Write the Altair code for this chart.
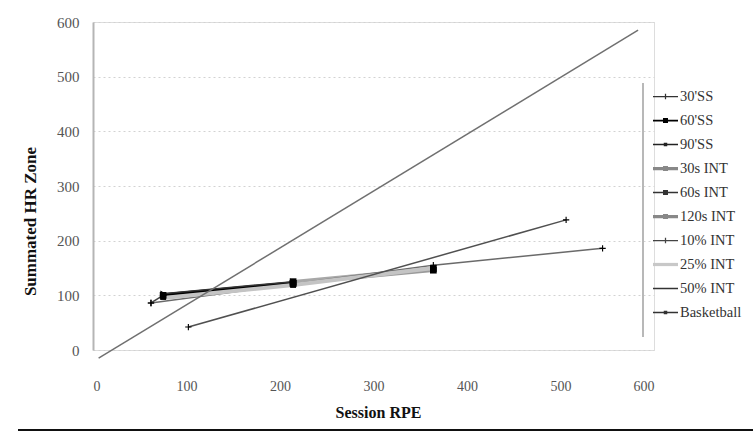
import altair as alt
import pandas as pd

# ---------------- data ----------------
series = ["30'SS", "60'SS", "90'SS", "30s INT", "60s INT", "120s INT",
          "10% INT", "25% INT", "50% INT", "Basketball"]

x_30ss = [62, 75]
y_30ss = [86, 100]
x_60ss = [75, 214]
y_60ss = [100, 122]
x_90ss = [75, 214]
y_90ss = [103, 125]
x_30sint = [214, 364]
y_30sint = [122, 146]
x_60sint = [75, 214]
y_60sint = [97, 119]
x_120sint = [214, 364]
y_120sint = [125, 149]
x_10int = [62, 364, 545]
y_10int = [86, 155, 186]
x_25int = [75, 214, 364]
y_25int = [95, 119, 150]
x_50int = [6, 583]
y_50int = [-15, 585]
x_bb = [102, 506]
y_bb = [42, 238]

x_ticks = [0, 100, 200, 300, 400, 500, 600]
y_ticks = [0, 100, 200, 300, 400, 500, 600]

xs = [x_30ss, x_60ss, x_90ss, x_30sint, x_60sint, x_120sint, x_10int, x_25int, x_50int, x_bb]
ys = [y_30ss, y_60ss, y_90ss, y_30sint, y_60sint, y_120sint, y_10int, y_25int, y_50int, y_bb]

# ---------------- styles ----------------
line_colors = ["#444", "#000", "#333", "#9a9a9a", "#555", "#a8a8a8",
               "#6a6a6a", "#c4c4c4", "#707070", "#505050"]
line_widths = [1.5, 4, 1.5, 3.5, 1.5, 3.5, 1.5, 4, 1.5, 1.5]
PLUS = "M-1,-0.18H1V0.18H-1Z M-0.18,-1H0.18V1H-0.18Z"
markers = ["PLUS", "square", "triangle-right", "square", "square", "square",
           "PLUS", None, None, "PLUS"]
marker_sizes = [40, 45, 40, 45, 35, 45, 40, 0, 0, 40]

# legend symbols: a short line plus the marker, as unit paths
def lpath(w, mark):
    p = f"M-1,-{w}H1V{w}H-1Z"
    if mark == "sq":
        p += " M-0.2,-0.2H0.2V0.2H-0.2Z"
    elif mark == "plus":
        p += " M-0.05,-0.22H0.05V0.22H-0.05Z"
    elif mark == "dot":
        p += " M-0.14,-0.14H0.14V0.14H-0.14Z"
    return p

legend_paths = [lpath(0.05, "plus"), lpath(0.07, "sq"), lpath(0.06, "dot"),
                lpath(0.13, "sq"), lpath(0.06, "sq"), lpath(0.13, "sq"),
                lpath(0.05, "plus"), lpath(0.13, None), lpath(0.06, None),
                lpath(0.06, "dot")]
legend_colors = ["#333", "#000", "#222", "#888", "#333", "#888",
                 "#444", "#c8c8c8", "#333", "#333"]

rows = []
for i, name in enumerate(series):
    for k, (xv, yv) in enumerate(zip(xs[i], ys[i])):
        mk = markers[i]
        rows.append({"series": name, "x": xv, "y": yv, "ord": k,
                     "sw": line_widths[i], "lc": line_colors[i],
                     "mk": PLUS if mk == "PLUS" else (mk or "circle"),
                     "ms": marker_sizes[i], "has": mk is not None})
df = pd.DataFrame(rows)

FONT = "Liberation Serif"

x_enc = alt.X("x:Q", scale=alt.Scale(domain=[0, 600], nice=False, zero=False),
              axis=alt.Axis(values=x_ticks, title="Session RPE", grid=False, domain=False,
                            ticks=False, tickSize=0, labelPadding=29,
                            labelFont=FONT, labelFontSize=14, labelColor="#555",
                            titleFont=FONT, titleFontSize=16, titleFontWeight="bold",
                            titleColor="#111", titleX=285, titleY=62,
                            titleBaseline="middle", titleAlign="center"))
y_enc = alt.Y("y:Q", scale=alt.Scale(domain=[0, 600], nice=False, zero=False),
              axis=alt.Axis(values=y_ticks, title="Summated HR Zone", grid=True,
                            gridColor="#d2d2d2", gridDash=[2, 3], gridWidth=1,
                            domain=True, domainColor="#b5b5b5", domainWidth=2,
                            ticks=False, tickSize=0, labelPadding=14,
                            labelFont=FONT, labelFontSize=15, labelColor="#555",
                            titleFont=FONT, titleFontSize=17, titleFontWeight="bold",
                            titleColor="#111", titleX=-63, titleY=199, titleAngle=270,
                            titleBaseline="middle", titleAlign="center"))

lines = alt.Chart(df).mark_line(clip=False).encode(
    x=x_enc, y=y_enc,
    color=alt.Color("lc:N", scale=None),
    strokeWidth=alt.StrokeWidth("sw:Q", scale=None),
    detail="series:N",
    order="ord:Q",
)

points = alt.Chart(df).transform_filter("datum.has").mark_point(
    filled=True, opacity=1, fill="#000", clip=False).encode(
    x="x:Q", y="y:Q",
    shape=alt.Shape("mk:N", scale=None),
    size=alt.Size("ms:Q", scale=None),
)

leg = alt.Legend(title=None, orient="none", legendX=560, legendY=62,
                 symbolSize=625, symbolStrokeWidth=0, symbolOpacity=1,
                 labelFont=FONT, labelFontSize=14.5, labelColor="#333",
                 labelOffset=2, rowPadding=5, padding=0)

legend_df = pd.DataFrame({"series": series, "x": [0] * len(series), "y": [0] * len(series)})
legend_layer = alt.Chart(legend_df).transform_filter("false").mark_point(
    filled=True, opacity=1).encode(
    x="x:Q", y="y:Q",
    color=alt.Color("series:N", scale=alt.Scale(domain=series, range=legend_colors), legend=leg),
    shape=alt.Shape("series:N", scale=alt.Scale(domain=series, range=legend_paths), legend=leg),
)

deco = pd.DataFrame({"a": [0]})
legend_border = alt.Chart(deco).mark_rule(color="#b8b8b8", strokeWidth=2).encode(
    x=alt.value(550), y=alt.value(61), y2=alt.value(315))
page_rule = alt.Chart(deco).mark_rule(color="#111", strokeWidth=2).encode(
    x=alt.value(-75), x2=alt.value(660), y=alt.value(408))

chart = alt.layer(lines, points, legend_layer, legend_border, page_rule).properties(
    width=561, height=328,
    padding={"left": 93, "top": 22, "right": 99, "bottom": 87},
    autosize=alt.AutoSizeParams(type="none"),
).configure_view(stroke=None).configure(background="white")

chart.save("out.html", embed_options={"renderer": "svg", "actions": False})
